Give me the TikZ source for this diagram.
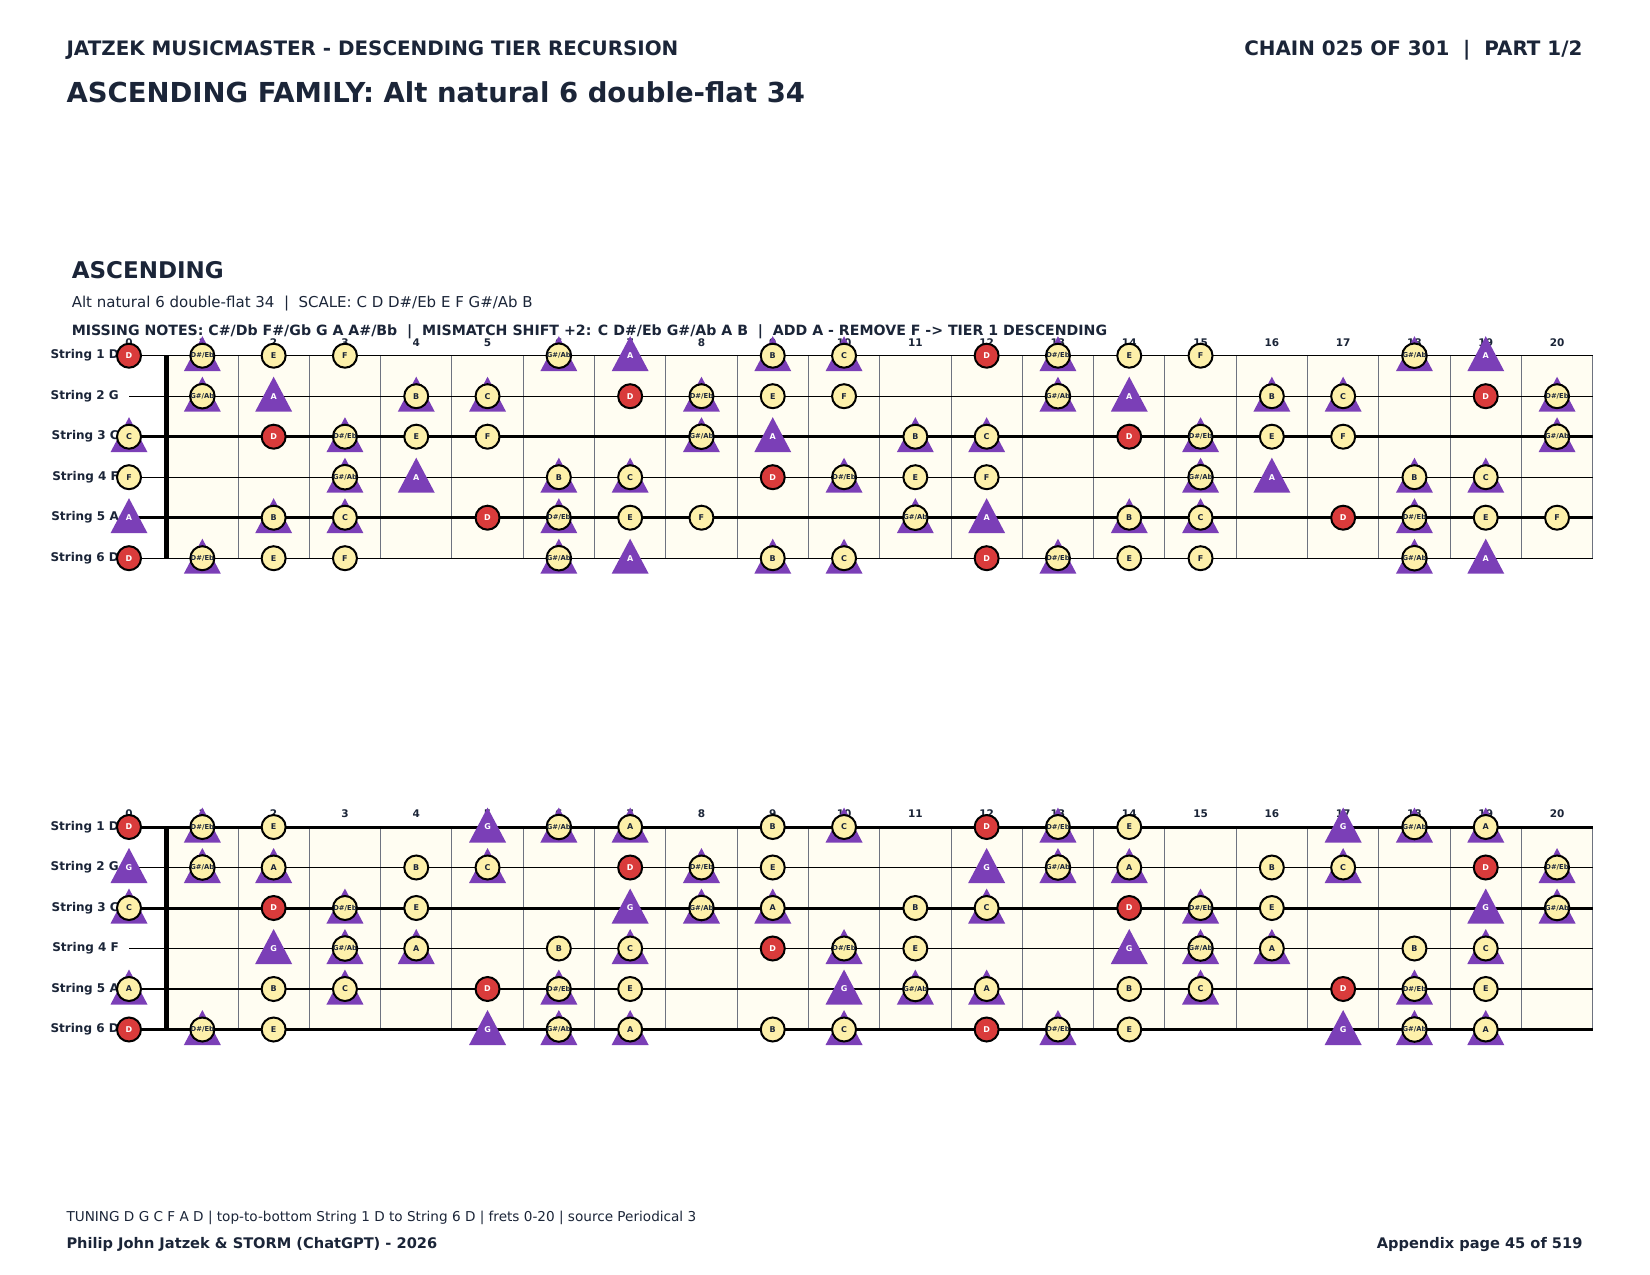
\documentclass[tikz,border=0pt]{standalone}
\usepackage{fontspec}
\setmainfont{DejaVu Sans}
\definecolor{ink}{HTML}{1B2538}
\definecolor{noteY}{HTML}{FDF0AA}
\definecolor{noteR}{HTML}{D93B3B}
\definecolor{triP}{HTML}{7B3FB7}
\definecolor{boardC}{HTML}{FFFDF2}
\definecolor{fretG}{HTML}{6E7380}
\newcommand\notename[1]{\ifcase#1 C\or C\#\or D\or D\#/Eb\or E\or F\or F\#\or G\or G\#/Ab\or A\or A\#\or B\fi}
\newcommand\typeU[1]{\ifcase#1 4\or 0\or 2\or 4\or 1\or 1\or 0\or 0\or 4\or 3\or 0\or 4\fi}
\newcommand\typeL[1]{\ifcase#1 4\or 0\or 2\or 4\or 1\or 0\or 0\or 3\or 4\or 4\or 0\or 1\fi}
\newcommand\nlab[1]{\ifnum#1=3 \fontsize{6.8}{7}\selectfont\else\ifnum#1=8 \fontsize{6.8}{7}\selectfont\else\fontsize{8}{9}\selectfont\fi\fi\notename{#1}}
\tikzset{
  txt/.style={inner sep=0pt, text=ink},
  strlab/.style={anchor=east, inner sep=0pt, text=ink, font=\fontsize{12}{14}\selectfont\bfseries},
  fretnum/.style={inner sep=0pt, text=ink, font=\fontsize{10.5}{12}\selectfont\bfseries},
  notec/.style={circle, minimum size=24pt, inner sep=0pt, draw=black, line width=2pt, fill=noteY, text=ink, font=\bfseries},
  noter/.style={notec, fill=noteR, text=white},
  trilab/.style={inner sep=0pt, text=white, font=\fontsize{8}{9}\selectfont\bfseries},
}
\newcommand\fretboard[4]{%
  \fill[boardC] (166.7,#2) rectangle (1593,#2+202.5);
  \foreach \f in {1,...,20}{
    \draw[fretG, line width=1pt] ({166.7+71.3*\f},#2) -- ({166.7+71.3*\f},#2+202.5);
  }
  \foreach \s/\o/\w in {#4}{
    \pgfmathsetmacro\yy{#2+40.5*(\s-1)}
    \draw[black, line width=\w pt] (129,\yy) -- (1593,\yy);
    \node[strlab] (lab#1\s) at (119,\yy) {String \s\ \notename{\o}};
  }
  \fill[black] (164.4,#2) rectangle (169,#2+202.5);
  \foreach \f in {0,...,20}{
    \pgfmathsetmacro\fx{\f==0 ? 129 : 131.05+71.3*\f}
    \node[fretnum] (fn#1\f) at (\fx,#2-13) {\f};
  }
  \foreach \s/\o/\w in {#4}{
    \foreach \f in {0,...,20}{
      \pgfmathtruncatemacro\n{mod(\o+\f,12)}
      \pgfmathsetmacro\fx{\f==0 ? 129 : 131.05+71.3*\f}
      \pgfmathsetmacro\yy{#2+40.5*(\s-1)}
      \edef\ty{#3{\n}}
      \ifnum\ty>2 \fill[triP] (\fx-18.5,\yy+15.5) -- (\fx,\yy-19.5) -- (\fx+18.5,\yy+15.5) -- cycle;\fi
      \ifnum\ty=3 \node[trilab] (t#1-\s-\f) at (\fx,\yy) {\notename{\n}};\fi
      \ifnum\ty=1 \node[notec] (c#1-\s-\f) at (\fx,\yy) {\nlab{\n}};\fi
      \ifnum\ty=4 \node[notec] (c#1-\s-\f) at (\fx,\yy) {\nlab{\n}};\fi
      \ifnum\ty=2 \node[noter] (r#1-\s-\f) at (\fx,\yy) {\nlab{\n}};\fi
    }
  }
}
\begin{document}
\begin{tikzpicture}[x=1pt,y=-1pt]
\fill[white] (0,0) rectangle (1650,1275);
\useasboundingbox (0,0) rectangle (1650,1275);
\node[txt, anchor=base west, font=\fontsize{19.9}{24}\selectfont\bfseries] (h1) at (66.3,55.8) {JATZEK MUSICMASTER - DESCENDING TIER RECURSION};
\node[txt, anchor=base east, font=\fontsize{19.9}{24}\selectfont\bfseries] (h2) at (1582.6,55.8) {CHAIN 025 OF 301\ \ |\ \ PART 1/2};
\node[txt, anchor=base west, font=\fontsize{27.5}{32}\selectfont\bfseries] (title) at (66.3,102.5) {ASCENDING FAMILY: Alt natural 6 double-flat 34};
\node[txt, anchor=base west, font=\fontsize{23}{28}\selectfont\bfseries] (sec) at (71.6,278.9) {ASCENDING};
\node[txt, anchor=base west, font=\fontsize{15}{18}\selectfont] (scale) at (71.6,307) {Alt natural 6 double-flat 34\ \ |\ \ SCALE: C D D\#/Eb E F G\#/Ab B};
\node[txt, anchor=base west, font=\fontsize{14.15}{17}\selectfont\bfseries] (miss) at (71.6,335.4) {MISSING NOTES: C\#/Db F\#/Gb G A A\#/Bb\ \ |\ \ MISMATCH SHIFT +2: C D\#/Eb G\#/Ab A B\ \ |\ \ ADD A - REMOVE F -> TIER 1 DESCENDING};
\fretboard{a}{355.7}{\typeU}{1/2/1.3,2/7/1.3,3/0/3,4/5/1.3,5/9/3,6/2/1.3}
\fretboard{b}{827}{\typeL}{1/2/3,2/7/1.3,3/0/3,4/5/1.3,5/9/1.3,6/2/3}
\node[txt, anchor=base west, font=\fontsize{13.6}{16}\selectfont] (tun) at (66.3,1221.3) {TUNING D G C F A D | top-to-bottom String 1 D to String 6 D | frets 0-20 | source Periodical 3};
\node[txt, anchor=base west, font=\fontsize{14.6}{17}\selectfont\bfseries] (auth) at (66.3,1248) {Philip John Jatzek \& STORM (ChatGPT) - 2026};
\node[txt, anchor=base east, font=\fontsize{14.6}{17}\selectfont\bfseries] (page) at (1582.6,1248) {Appendix page 45 of 519};
\end{tikzpicture}
\end{document}
